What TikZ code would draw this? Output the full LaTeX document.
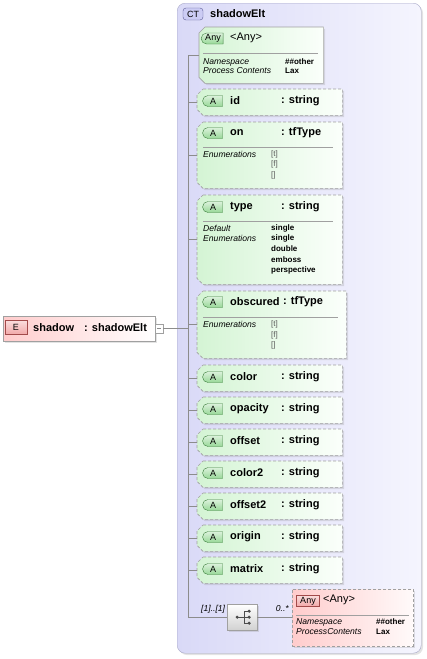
\documentclass[tikz,border=0pt]{standalone}
\usepackage{fontspec}
\setmainfont{Liberation Sans}
\usetikzlibrary{shapes.misc,shadows,positioning}

\definecolor{ctleft}{HTML}{D9D9F7}
\definecolor{ctright}{HTML}{F5F5FE}
\definecolor{ctline}{HTML}{A8A8C8}
\definecolor{ctbadge}{HTML}{CCCCF4}
\definecolor{ctbadgeline}{HTML}{5A5A96}
\definecolor{attrleft}{HTML}{D4F4D4}
\definecolor{attrright}{HTML}{FBFFFB}
\definecolor{greenbadge}{HTML}{98D898}
\definecolor{greenline}{HTML}{3F7F3F}
\definecolor{elemleft}{HTML}{FFCCCC}
\definecolor{elemright}{HTML}{FFFAFA}
\definecolor{redbadge}{HTML}{F2A8A8}
\definecolor{redline}{HTML}{A24A4A}
\definecolor{boxgray}{HTML}{A0A0A0}
\definecolor{linegray}{HTML}{8C8C8C}

% outline with the two left corners cut off
\newcommand{\chamferbox}[2][]{%
  \path[#1] ([xshift = 6pt]#2.north west) -- (#2.north east) -- (#2.south east)
    -- ([xshift = 6pt]#2.south west) -- ([yshift = 6pt]#2.south west)
    -- ([yshift = -6pt]#2.north west) -- cycle;}

\begin{document}
\begin{tikzpicture}[
    x = 1pt, y = -1pt,
    softshadow/.style = {drop shadow = {opacity = 0.22, shadow xshift = 1.8pt, shadow yshift = -1.8pt}},
    ctbox/.style = {draw = ctline, rounded corners = 8pt, left color = ctleft, right color = ctright,
      inner sep = 0pt, anchor = north west, softshadow},
    slot/.style = {rectangle, inner sep = 0pt, anchor = north west},
    attrshape/.style = {draw = boxgray, line width = 0.6pt, dash pattern = on 3pt off 2pt, left color = attrleft,
      right color = attrright, softshadow},
    anyshape/.style = {attrshape, solid},
    pinkbox/.style = {draw = boxgray, line width = 0.6pt, dash pattern = on 3pt off 2pt, left color = elemleft,
      right color = elemright, inner sep = 0pt, anchor = north west, softshadow},
    elembox/.style = {draw = boxgray, left color = elemleft, right color = white,
      inner sep = 0pt, anchor = north west, softshadow},
    abadge/.style = {rounded rectangle, rounded rectangle right arc = none, draw = greenline,
      top color = greenbadge!35!white, bottom color = greenbadge, minimum width = 20, minimum height = 11,
      inner sep = 0pt, font = \fontsize{9}{9}\selectfont},
    redbadge/.style = {draw = redline, top color = redbadge!40!white, bottom color = redbadge,
      minimum width = 22, minimum height = 12, inner sep = 0pt, font = \fontsize{9}{9}\selectfont},
    ctbadge/.style = {draw = ctbadgeline, fill = ctbadge, rounded corners = 3pt,
      minimum width = 20, minimum height = 12, inner sep = 0pt, font = \fontsize{9}{9}\selectfont},
    compbox/.style = {draw = boxgray, top color = white, bottom color = black!18,
      minimum width = 30, minimum height = 26, inner sep = 0pt, anchor = north west, softshadow},
    nm/.style = {font = \fontsize{11}{12}\bfseries, anchor = west, inner sep = 0pt},
    plain/.style = {font = \fontsize{11}{12}\selectfont, anchor = west, inner sep = 0pt},
    lbl/.style = {font = \fontsize{8.6}{9}\itshape, anchor = west, inner sep = 0pt},
    val/.style = {font = \fontsize{8}{9}\bfseries, anchor = west, inner sep = 0pt},
    enum/.style = {font = \fontsize{8}{9}\selectfont, text = black!65, anchor = west, inner sep = 0pt},
    sepline/.style = {draw = boxgray, line width = 0.6pt},
    conn/.style = {draw = linegray, line width = 0.6pt},
  ]
  \useasboundingbox (0,0) rectangle (426,659);

  % complex type
  \node[ctbox, minimum width = 244, minimum height = 650] (ct) at (177,3) {};
  \node[ctbadge] (ct-b) at (193,14) {CT};
  \node[nm] (ct-n) at (210,14) {shadowElt};

  % element
  \node[elembox, minimum width = 152, minimum height = 25] (elem) at (3,316) {};
  \node[redbadge, minimum height = 14] (elem-b) at (16,327.5) {E};
  \node[nm] (elem-n) at (33,328) {shadow};
  \node[nm] (elem-t) at (84,328) {: shadowElt};
  \node[draw = boxgray, fill = white, minimum width = 8, minimum height = 9, inner sep = 0pt] (elem-m) at (159,328.5) {};
  \draw[linegray] ([xshift = -2.4pt]elem-m.center) -- ([xshift = 2.4pt]elem-m.center);

  % any attribute
  \node[slot, minimum width = 124, minimum height = 56] (anyt) at (199,27) {};
  \chamferbox[anyshape]{anyt}
  \node[abadge, minimum width = 22] (anyt-b) at (213,38.5) {Any};
  \node[plain] (anyt-n) at (230,38) {<Any>};
  \draw[sepline] (203,53) -- (318,53);
  \node[lbl] (anyt-l1) at (203,62) {Namespace};
  \node[lbl] (anyt-l2) at (203,71) {Process Contents};
  \node[val] (anyt-v1) at (285,62) {\#\#other};
  \node[val] (anyt-v2) at (285,71) {Lax};

  % sequence line
  \coordinate (seqtop) at ([xshift = -11pt]anyt.west);
  \node[compbox] (comp) at (227,604) {};
  \coordinate (seqbot) at (comp.west -| seqtop);
  \draw[conn] (anyt.west) -- (seqtop) -- (seqbot) -- (comp.west);
  \draw[conn] (elem-m.east) -- (elem-m.east -| seqtop);

  % simple attributes
  \foreach \aname/\ay in {id/89, color/365, opacity/397, offset/429, color2/461, offset2/493, origin/525, matrix/557} {
    \node[slot, minimum width = 145, minimum height = 26] (a-\aname) at (197,\ay) {};
    \chamferbox[attrshape]{a-\aname}
    \node[abadge] (a-\aname-b) at (213,\ay+12) {A};
    \node[nm] (a-\aname-n) at (230,\ay+12) {\aname};
    \node[nm] (a-\aname-t) at (281,\ay+12) {: string};
    \draw[conn] (a-\aname.west) -- (a-\aname.west -| seqtop);
  }

  % attribute on
  \node[slot, minimum width = 145, minimum height = 66] (a-on) at (197,122) {};
  \chamferbox[attrshape]{a-on}
  \node[abadge] (a-on-b) at (213,133) {A};
  \node[nm] (a-on-n) at (230,133) {on};
  \node[nm] (a-on-t) at (281,133) {: tfType};
  \draw[sepline] (203,147) -- (333,147);
  \node[lbl] (a-on-l) at (203,154) {Enumerations};
  \foreach \v [count = \i from 0] in {{[t]}, {[f]}, {[]}}
    \node[enum] (a-on-v\i) at (271,154+10.5*\i) {\v};
  \draw[conn] (a-on.west) -- (a-on.west -| seqtop);

  % attribute type
  \node[slot, minimum width = 145, minimum height = 89] (a-type) at (197,195) {};
  \chamferbox[attrshape]{a-type}
  \node[abadge] (a-type-b) at (213,207) {A};
  \node[nm] (a-type-n) at (230,207) {type};
  \node[nm] (a-type-t) at (281,207) {: string};
  \draw[sepline] (203,221) -- (333,221);
  \node[lbl] (a-type-l1) at (203,228) {Default};
  \node[lbl] (a-type-l2) at (203,238.5) {Enumerations};
  \foreach \v [count = \i from 0] in {single, single, double, emboss, perspective}
    \node[val] (a-type-v\i) at (271,228+10.5*\i) {\v};
  \draw[conn] (a-type.west) -- (a-type.west -| seqtop);

  % attribute obscured
  \node[slot, minimum width = 149, minimum height = 67] (a-obs) at (197,291) {};
  \chamferbox[attrshape]{a-obs}
  \node[abadge] (a-obs-b) at (213,302) {A};
  \node[nm] (a-obs-n) at (230,302) {obscured};
  \node[nm, right = 3pt of a-obs-n] (a-obs-t) {: tfType};
  \draw[sepline] (203,317) -- (338,317);
  \node[lbl] (a-obs-l) at (203,324.5) {Enumerations};
  \foreach \v [count = \i from 0] in {{[t]}, {[f]}, {[]}}
    \node[enum] (a-obs-v\i) at (271,324.5+10.5*\i) {\v};
  \draw[conn] (a-obs.west) -- (a-obs.west -| seqtop);

  % sequence compositor
  \fill[black!70] ([xshift = -5pt]comp.center) circle (1.7pt);
  \draw[black!70, line width = 0.7pt] ([xshift = -5pt]comp.center) -- ([xshift = 2pt]comp.center)
    ([shift = {(2,-6)}]comp.center) -- ([shift = {(2,6)}]comp.center);
  \foreach \dy in {-6, 0, 6} {
    \draw[black!70, line width = 0.7pt] ([shift = {(2,\dy)}]comp.center) -- ([shift = {(7,\dy)}]comp.center);
    \fill[black!70] ([shift = {(7,\dy)}]comp.center) circle (1.7pt);
  }
  \node[lbl] (comp-l) at (201,609) {[1]..[1]};

  % any element
  \node[pinkbox, minimum width = 121, minimum height = 57] (anyb) at (292,589) {};
  \node[lbl, anchor = east] (anyb-l) at (289,609) {0..*};
  \draw[conn] (comp.east) -- (comp.east -| anyb.west);
  \node[redbadge, minimum width = 23, minimum height = 11] (anyb-b) at (308,601) {Any};
  \node[plain] (anyb-n) at (323,600) {<Any>};
  \draw[sepline] (296,615.5) -- (409,615.5);
  \node[lbl] (anyb-l1) at (296,622) {Namespace};
  \node[lbl] (anyb-l2) at (296,632) {ProcessContents};
  \node[val] (anyb-v1) at (376,622) {\#\#other};
  \node[val] (anyb-v2) at (376,632) {Lax};
\end{tikzpicture}
\end{document}
